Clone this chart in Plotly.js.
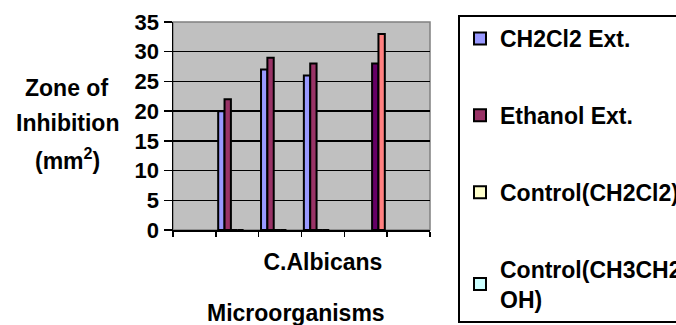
<!DOCTYPE html>
<html>
<head>
<meta charset="utf-8">
<script src="https://cdn.plot.ly/plotly-3.0.1.min.js"></script>
<style>html,body{margin:0;padding:0;background:#fff;}#chart{width:676px;height:325px;}</style>
</head>
<body>
<div id="chart"></div>
<script>
// Category slots along the x axis (only the 4th carries a visible label)
const slots = [1, 2, 3, 4, 5, 6];
const slotLabel = 'C.Albicans';
const slotLabelPos = 4;
const boundaries = [0.5, 1.5, 2.5, 3.5, 4.5, 5.5, 6.5];

// Series values (zone of inhibition, mm²)
const seriesNames = ['CH2Cl2 Ext.', 'Ethanol Ext.', 'Control(CH2Cl2)', 'Control(CH3CH2<br>OH)', 'Series 5', 'Series 6'];
const ch2cl2Ext   = [null, 20, 27, 26, null, null];
const ethanolExt  = [null, 22, 29, 28, null, null];
const controlCH2  = [null, 0, 0, 0, null, null];
const controlEtOH = [null, 0, 0, 0, null, null];
const series5     = [null, null, null, null, 28, null];
const series6     = [null, null, null, null, 33, null];
const seriesValues = [ch2cl2Ext, ethanolExt, controlCH2, controlEtOH, series5, series6];
const seriesColors = ['#9999FF', '#993366', '#FFFFCC', '#CCFFFF', '#660066', '#FF8080'];
const inLegend = [true, true, true, true, false, false];

const yTicks = [0, 5, 10, 15, 20, 25, 30, 35];

const FONT = 'Liberation Sans, Arial, sans-serif';

const traces = seriesValues.map((vals, i) => ({
  type: 'bar',
  x: slots,
  y: vals,
  name: seriesNames[i],
  showlegend: inLegend[i],
  legendgroup: 'g' + i,
  marker: { color: seriesColors[i], line: { color: '#000000', width: 2 } }
}));

const W = 676, H = 325;
const L = 173, R = 430, T = 22, B = 230;
const pw = R - L, ph = B - T;
const px = v => (v - L) / pw;
const py = v => (B - v) / ph;

const layout = {
  width: W, height: H,
  margin: { l: L, r: W - R, t: T, b: H - B, autoexpand: false },
  paper_bgcolor: '#ffffff',
  plot_bgcolor: '#C0C0C0',
  barmode: 'group',
  bargap: 0.11,
  bargroupgap: 0,
  font: { family: FONT, color: '#000000' },
  xaxis: {
    range: [0.5, 6.5],
    tickmode: 'array', tickvals: boundaries, ticktext: boundaries.map(() => ''),
    ticks: 'outside', ticklen: 5, tickwidth: 1.5, tickcolor: '#000000',
    showgrid: false, zeroline: false,
    showline: true, linecolor: '#000000', linewidth: 1.5
  },
  xaxis2: {
    overlaying: 'x', anchor: 'y', side: 'bottom',
    range: [0.5, 6.5],
    tickmode: 'array', tickvals: [slotLabelPos], ticktext: [slotLabel],
    ticks: '', showgrid: false, zeroline: false, showline: false,
    ticklabelstandoff: 16,
    tickfont: { family: FONT, size: 23, weight: 'bold', color: '#000000' }
  },
  yaxis: {
    range: [0, 35],
    tickmode: 'array', tickvals: yTicks, ticktext: yTicks.map(String),
    ticks: 'outside', ticklen: 8, tickwidth: 1.5, tickcolor: '#000000',
    showgrid: true, gridcolor: '#000000', gridwidth: 1.5,
    zeroline: false,
    showline: true, linecolor: '#000000', linewidth: 1.5,
    tickfont: { family: FONT, size: 22, weight: 'bold', color: '#000000' }
  },
  legend: {
    x: px(458), xanchor: 'left', y: py(15), yanchor: 'top',
    maxheight: 310,
    bgcolor: '#ffffff', bordercolor: '#000000', borderwidth: 2,
    traceorder: 'grouped', tracegroupgap: 44,
    font: { family: FONT, size: 23, weight: 'bold', color: '#000000' }
  },
  shapes: [{
    type: 'rect', xref: 'paper', yref: 'paper', x0: 0, x1: 1, y0: 0, y1: 1,
    line: { color: '#808080', width: 1.5 }, layer: 'below'
  }],
  annotations: [
    { text: 'Zone of', x: px(66), y: py(88) },
    { text: 'Inhibition', x: px(67), y: py(123) },
    { text: '(mm<sup>2</sup>)', x: px(67), y: py(159) },
    { text: 'Microorganisms', x: px(296), y: py(313) }
  ].map(a => Object.assign({
    xref: 'paper', yref: 'paper', xanchor: 'center', yanchor: 'middle',
    showarrow: false,
    font: { family: FONT, size: 23, weight: 'bold', color: '#000000' }
  }, a))
};

// empty trace so the label axis is drawn
traces.push({ type: 'scatter', x: [slotLabelPos], y: [null], xaxis: 'x2', yaxis: 'y', showlegend: false, hoverinfo: 'skip' });

Plotly.newPlot('chart', traces, layout, { displayModeBar: false, staticPlot: true });
</script>
</body>
</html>
